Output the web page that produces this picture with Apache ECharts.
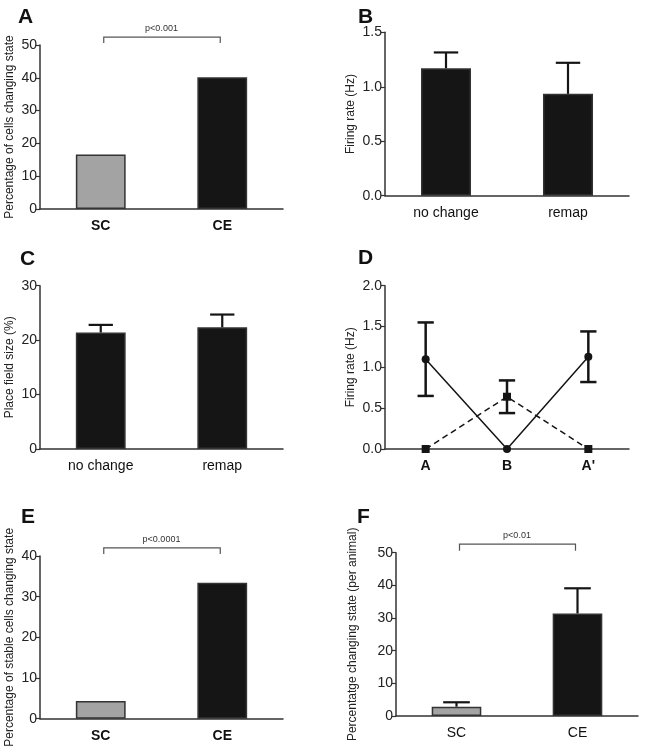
<!DOCTYPE html>
<html><head><meta charset="utf-8">
<script src="https://cdn.jsdelivr.net/npm/echarts@6/dist/echarts.min.js"></script>
<style>html,body{margin:0;padding:0;background:#fff}#c{width:646px;height:750px}</style>
</head><body><div id="c"></div>
<script>
// ---- data ----
const catSCCE = ['SC', 'CE'];
const catRemap = ['no change', 'remap'];
const catD = ['A', 'B', "A'"];
const pctChangingA = [16.6, 40.2];
const firingB = [1.17, 0.935];
const firingBErr = [0.145, 0.285];
const fieldSizeC = [21.4, 22.35];
const fieldSizeCErr = [1.4, 2.35];
const rateDSolid = [1.10, 0, 1.13];
const rateDSolidErr = [0.45, 0, 0.31];
const rateDDashed = [0, 0.64, 0];
const rateDDashedErr = [0, 0.2, 0];
const stableE = [4.35, 33.4];
const perAnimalF = [2.85, 31.4];
const perAnimalFErr = [1.35, 7.7];
const pTextA = 'p<0.001', pTextE = 'p<0.0001', pTextF = 'p<0.01';
const bracketA = [52.4, 50.6];
const bracketE = [42.0, 40.5];
const bracketF = [52.6, 50.6];
const panelLetters = ['A', 'B', 'C', 'D', 'E', 'F'];
const yNames = ['Percentage of cells changing state', 'Firing rate (Hz)', 'Place field size (%)',
  'Firing rate (Hz)', 'Percentage of stable cells changing state', 'Percentatge changing state (per animal)'];

const FONT = '"Liberation Sans", Arial, sans-serif';
const AX = '#333';
const GREY = '#a3a3a3', BLACK = '#151515';

const grids = [
  {left: 40, top: 45, width: 243, height: 164},
  {left: 385, top: 32.3, width: 244, height: 163.4},
  {left: 40, top: 285.7, width: 243, height: 163.3},
  {left: 385, top: 285.7, width: 244, height: 163.3},
  {left: 40, top: 556, width: 243, height: 162.7},
  {left: 396, top: 552.7, width: 242, height: 163.3}
];
const titlePos = [[18, 7], [358, 7], [20, 249], [358, 248], [21, 507], [357, 507]];
const yCfg = [
  {max: 50, interval: 10, gap: 24},
  {max: 1.5, interval: 0.5, gap: 28, dec: 1},
  {max: 30, interval: 10, gap: 24},
  {max: 2.0, interval: 0.5, gap: 28, dec: 1},
  {max: 40, interval: 10, gap: 24},
  {max: 50, interval: 10, gap: 37}
];
const xCats = [catSCCE, catRemap, catRemap, catD, catSCCE, catSCCE];
const xBold = [true, false, false, true, true, false];

const xAxis = xCats.map((c, i) => ({
  type: 'category', gridIndex: i, data: c,
  axisLine: {lineStyle: {color: AX, width: 1.5}},
  axisTick: {alignWithLabel: true, length: 5, lineStyle: {color: AX, width: 1.2}},
  axisLabel: {fontFamily: FONT, fontSize: 14, color: '#111', fontWeight: xBold[i] ? 'bold' : 'normal', margin: 10, interval: 0}
}));
const yAxis = yCfg.map((y, i) => ({
  type: 'value', gridIndex: i, min: 0, max: y.max, interval: y.interval,
  name: yNames[i], nameLocation: 'middle', nameGap: y.gap,
  nameTextStyle: {fontFamily: FONT, fontSize: 12, color: '#222'},
  axisLine: {show: true, lineStyle: {color: AX, width: 1.5}},
  axisTick: {show: true, length: 4, lineStyle: {color: AX, width: 1.2}},
  splitLine: {show: false},
  axisLabel: {fontFamily: FONT, fontSize: 14, color: '#222', margin: 3,
    formatter: v => y.dec ? v.toFixed(y.dec) : String(v)}
}));

function barSeries(i, vals, colors) {
  return {
    type: 'bar', xAxisIndex: i, yAxisIndex: i, barWidth: '41%',
    data: vals.map((v, k) => ({value: v, itemStyle: {color: colors[k]}})),
    itemStyle: {borderColor: '#333', borderWidth: 1.5}, silent: true
  };
}
function errSeries(i, vals, up, down, capFrac, width) {
  return {
    type: 'custom', xAxisIndex: i, yAxisIndex: i, silent: true, z: 5,
    data: vals.map((v, k) => [k, v, up[k], down ? down[k] : 0]),
    renderItem: (p, api) => {
      const k = api.value(0), v = api.value(1), u = api.value(2), d = api.value(3);
      if (u === 0 && d === 0) return null;
      const top = api.coord([k, v + u]);
      const bot = api.coord([k, v - d]);
      const half = api.size([1, 0])[0] * capFrac / 2;
      const st = {stroke: '#151515', lineWidth: width, fill: null};
      const kids = [
        {type: 'line', shape: {x1: top[0], y1: top[1], x2: bot[0], y2: bot[1]}, style: st},
        {type: 'line', shape: {x1: top[0] - half, y1: top[1], x2: top[0] + half, y2: top[1]}, style: st}
      ];
      if (d > 0) kids.push({type: 'line', shape: {x1: bot[0] - half, y1: bot[1], x2: bot[0] + half, y2: bot[1]}, style: st});
      return {type: 'group', children: kids};
    }
  };
}
function bracketSeries(i, lv, txt) {
  return {
    type: 'custom', xAxisIndex: i, yAxisIndex: i, silent: true, clip: false,
    data: [[0, 1, lv[0], lv[1]]],
    renderItem: (p, api) => {
      const a = api.coord([api.value(0), api.value(2)]);
      const b = api.coord([api.value(1), api.value(2)]);
      const ab = api.coord([api.value(0), api.value(3)]);
      const dx = 3;
      return {type: 'group', children: [
        {type: 'polyline', shape: {points: [[a[0] + dx, ab[1]], [a[0] + dx, a[1]], [b[0] - 2, b[1]], [b[0] - 2, ab[1]]]},
          style: {stroke: '#555', lineWidth: 1.2, fill: null}},
        {type: 'text', x: (a[0] + b[0]) / 2, y: a[1] - 4,
          style: {text: txt, fontFamily: FONT, fontSize: 9, fill: '#333', align: 'center', verticalAlign: 'bottom'}}
      ]};
    }
  };
}

const series = [
  barSeries(0, pctChangingA, [GREY, BLACK]),
  bracketSeries(0, bracketA, pTextA),
  barSeries(1, firingB, [BLACK, BLACK]),
  errSeries(1, firingB, firingBErr, null, 0.2, 2.2),
  barSeries(2, fieldSizeC, [BLACK, BLACK]),
  errSeries(2, fieldSizeC, fieldSizeCErr, null, 0.2, 2.2),
  {type: 'line', xAxisIndex: 3, yAxisIndex: 3, data: rateDSolid, symbol: 'circle', symbolSize: 8,
    lineStyle: {color: '#151515', width: 1.5}, itemStyle: {color: '#151515'}, silent: true, z: 4},
  {type: 'line', xAxisIndex: 3, yAxisIndex: 3, data: rateDDashed, symbol: 'rect', symbolSize: 8,
    lineStyle: {color: '#151515', width: 1.5, type: [6, 4]}, itemStyle: {color: '#151515'}, silent: true, z: 4},
  errSeries(3, rateDSolid, rateDSolidErr, rateDSolidErr, 0.2, 2.5),
  errSeries(3, rateDDashed, rateDDashedErr, rateDDashedErr, 0.2, 2.5),
  barSeries(4, stableE, [GREY, BLACK]),
  bracketSeries(4, bracketE, pTextE),
  barSeries(5, perAnimalF, [GREY, BLACK]),
  errSeries(5, perAnimalF, perAnimalFErr, null, 0.22, 2.2),
  bracketSeries(5, bracketF, pTextF)
];

const chart = echarts.init(document.getElementById('c'), null, {renderer: 'canvas'});
chart.setOption({
  animation: false,
  backgroundColor: '#fff',
  title: panelLetters.map((t, i) => ({text: t, left: titlePos[i][0], top: titlePos[i][1], padding: 0,
    textStyle: {fontFamily: FONT, fontSize: 21, fontWeight: 'bold', color: '#111'}})),
  grid: grids,
  xAxis, yAxis, series
});
</script></body></html>
